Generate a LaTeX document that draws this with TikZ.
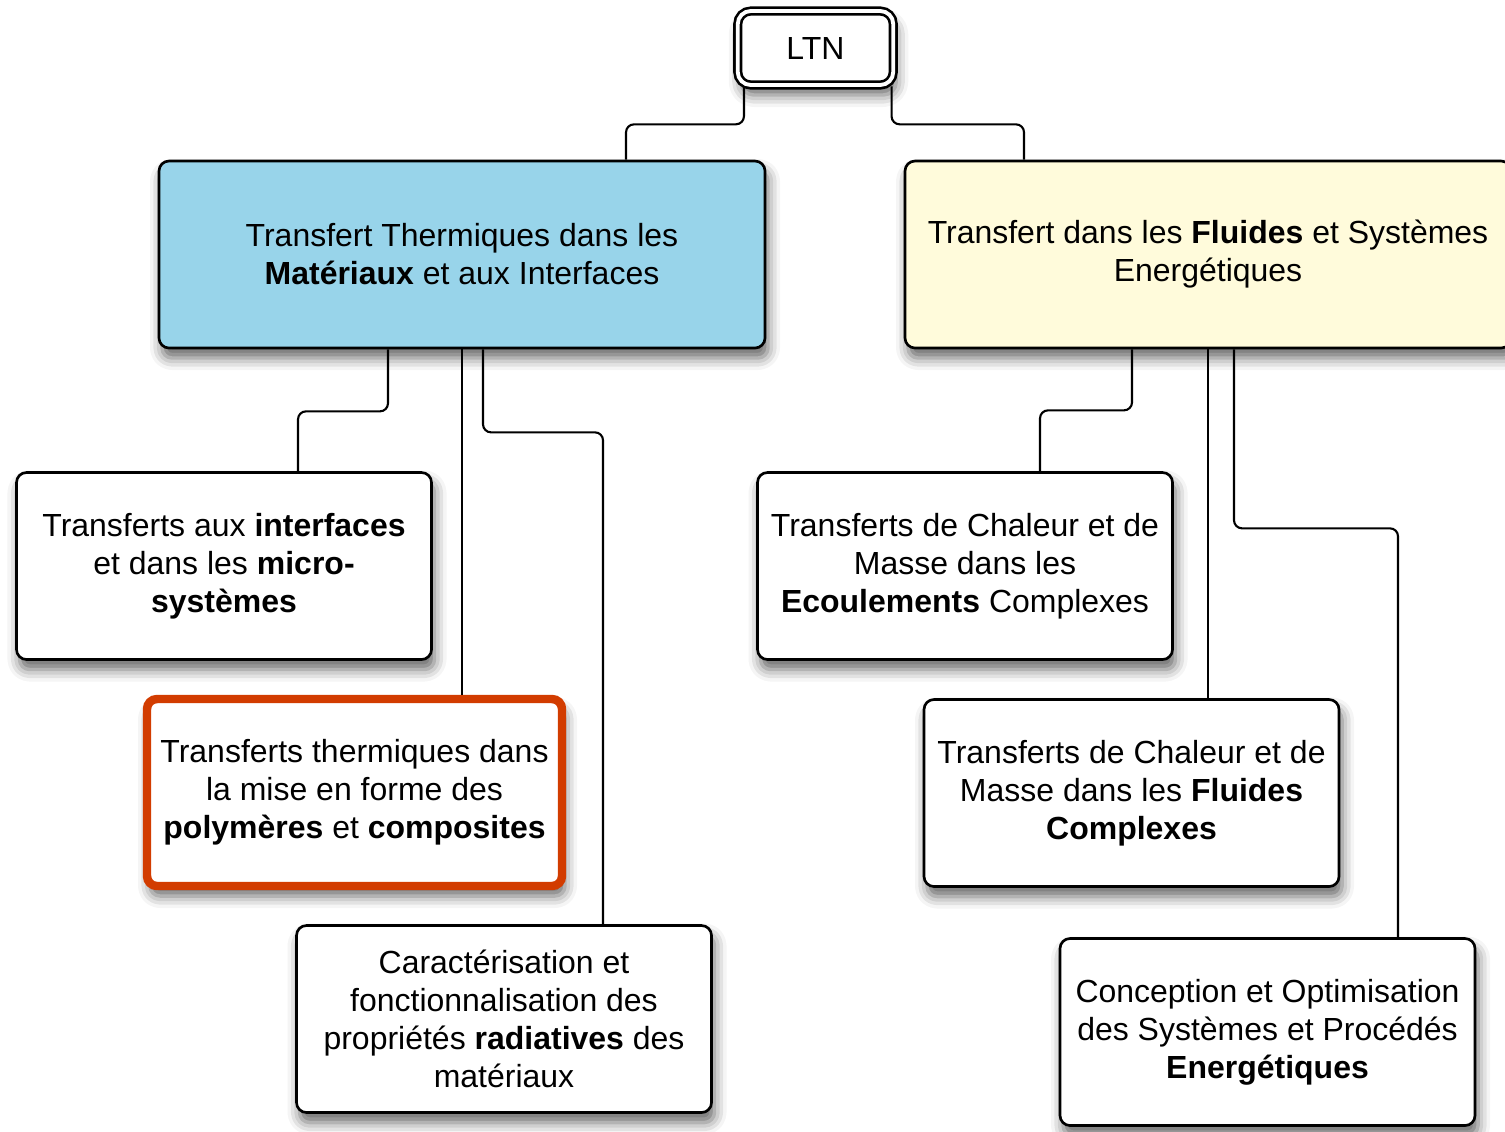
\documentclass[tikz,border=0pt]{standalone}
\usepackage{fontspec}
\setmainfont{Liberation Sans}
\usetikzlibrary{shadows.blur}

\definecolor{themblue}{RGB}{152,212,234}
\definecolor{themyellow}{RGB}{255,251,219}
\definecolor{focusred}{RGB}{210,60,0}

\tikzset{
  box/.style={draw, line width=0.75pt, rounded corners=0.1cm, fill=white,
    align=center, inner sep=0pt, minimum width=4.15cm, minimum height=1.87cm,
    font=\fontsize{9.1}{10.8}\selectfont,
    blur shadow={shadow xshift=0.03cm, shadow yshift=-0.1cm, shadow blur radius=0.12cm, shadow opacity=60}},
  theme/.style={box, minimum width=6.06cm},
  link/.style={line width=0.6pt, rounded corners=0.08cm},
}

\begin{document}
\begin{tikzpicture}
  \useasboundingbox (0,0) rectangle (15.05,-11.31);

  \node (ltn) at (8.155,-0.48) [box, minimum width=1.555cm, minimum height=0.74cm,
    rounded corners=0.13cm, double=white, double distance=1.1pt] {LTN};

  \node (tth) at (4.62,-2.545)  [theme, fill=themblue]
    {Transfert Thermiques dans les\\\textbf{Matériaux} et aux Interfaces};
  \node (tfs) at (12.08,-2.545) [theme, fill=themyellow]
    {Transfert dans les \textbf{Fluides} et Systèmes\\Energétiques};

  \node (ia) at (2.24,-5.66)   [box]
    {Transferts aux \textbf{interfaces}\\et dans les \textbf{micro-}\\\textbf{systèmes}};
  \node (pc) at (3.545,-7.925) [box, draw=focusred, line width=2.4pt]
    {Transferts thermiques dans\\la mise en forme des\\\textbf{polymères} et \textbf{composites}};
  \node (cr) at (5.04,-10.19)  [box]
    {Caractérisation et\\fonctionnalisation des\\propriétés \textbf{radiatives} des\\matériaux};

  \node (ec) at (9.65,-5.66)   [box]
    {Transferts de Chaleur et de\\Masse dans les\\\textbf{Ecoulements} Complexes};
  \node (fc) at (11.315,-7.93) [box]
    {Transferts de Chaleur et de\\Masse dans les \textbf{Fluides}\\\textbf{Complexes}};
  \node (cs) at (12.675,-10.32) [box]
    {Conception et Optimisation\\des Systèmes et Procédés\\\textbf{Energétiques}};

  % LTN -> themes
  \draw[link] ([xshift=0.075cm]ltn.south west) -- ++(0,-0.38) -| ([xshift=1.64cm]tth.north);
  \draw[link] ([xshift=-0.03cm]ltn.south east) -- ++(0,-0.38) -| ([xshift=-1.84cm]tfs.north);

  % materiaux
  \draw[link] ([xshift=-0.74cm]tth.south) -- ++(0,-0.62) -| ([xshift=0.74cm]ia.north);
  \draw[link] (tth.south) -- (tth.south |- pc.north);
  \draw[link] ([xshift=0.21cm]tth.south) -- ++(0,-0.83) -| ([xshift=0.99cm]cr.north);

  % fluides
  \draw[link] ([xshift=-0.76cm]tfs.south) -- ++(0,-0.61) -| ([xshift=0.75cm]ec.north);
  \draw[link] (tfs.south) -- (tfs.south |- fc.north);
  \draw[link] ([xshift=0.26cm]tfs.south) -- ++(0,-1.79) -| ([xshift=1.305cm]cs.north);
\end{tikzpicture}
\end{document}
